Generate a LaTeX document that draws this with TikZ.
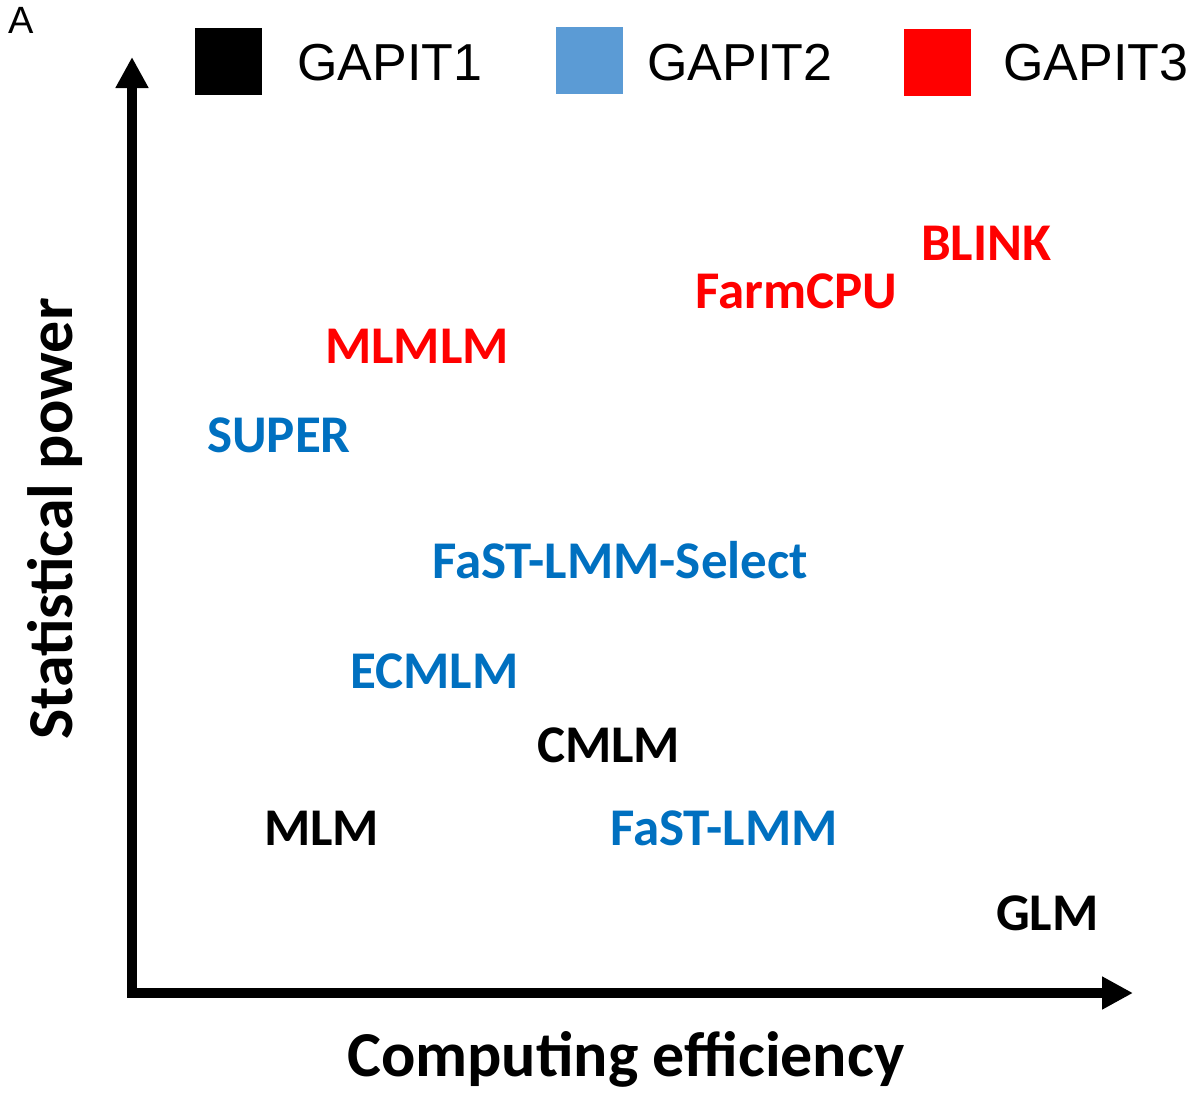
\documentclass[tikz,border=0pt]{standalone}
\usepackage{fontspec}
\usepackage{tikz}
\usetikzlibrary{arrows.meta}
\newfontfamily\carlito{Carlito}
\newfontfamily\arialfont{Liberation Sans}
\definecolor{gapitblue}{HTML}{0070C0}
\definecolor{gapitred}{HTML}{FF0000}
\definecolor{legblue}{HTML}{5B9BD5}

\begin{document}
\begin{tikzpicture}[x=1pt, y=-1pt,
    method/.style={inner sep=0pt, anchor=base west,
      font=\carlito\bfseries\fontsize{53}{60}\selectfont},
    g1/.style={method, text=black},
    g2/.style={method, text=gapitblue},
    g3/.style={method, text=gapitred},
    legbox/.style={draw=none, minimum width=67pt, minimum height=67pt,
      inner sep=0pt, anchor=north west},
    legtxt/.style={inner sep=0pt, anchor=base west,
      font=\arialfont\fontsize{52}{60}\selectfont},
    axlbl/.style={inner sep=0pt, anchor=base west,
      font=\carlito\bfseries\fontsize{64}{72}\selectfont},
    axis/.style={line width=10pt,
      {Triangle[length=31pt, width=31pt]}-{Triangle[length=31pt, width=31pt]}}
  ]
    \useasboundingbox (0,0) rectangle (1203,1096);
    \node[inner sep=0pt, anchor=base west,
      font=\arialfont\fontsize{38}{44}\selectfont] (PANEL) at (8,33) {A};
    % legend
    \node[legbox, fill=black] (SQ1) at (195,28) {};
    \node[legtxt] (LG1) at (297,80) {GAPIT1};
    \node[legbox, fill=legblue] (SQ2) at (556,27) {};
    \node[legtxt] (LG2) at (647,80) {GAPIT2};
    \node[legbox, fill=gapitred] (SQ3) at (904,29) {};
    \node[legtxt] (LG3) at (1003,80) {GAPIT3};
    % axes
    \coordinate (O) at (132,993);
    \coordinate (YTOP) at (132,57);
    \coordinate (XEND) at (1133,993);
    \draw[axis] (YTOP) -- (O) -- (XEND);
    \node[axlbl] (XLBL) at (347,1076) {Computing efficiency};
    \node[axlbl, rotate=90] (YLBL) at (72,740) {Statistical power};
    % methods
    \node[g3] (BLINK) at (921,260) {BLINK};
    \node[g3] (FARMCPU) at (695,308) {FarmCPU};
    \node[g3] (MLMLM) at (325,363) {MLMLM};
    \node[g2] (SUPER) at (207,452) {SUPER};
    \node[g2] (FASTSEL) at (432,578) {FaST-LMM-Select};
    \node[g2] (ECMLM) at (350,688) {ECMLM};
    \node[g1] (CMLM) at (537,762) {CMLM};
    \node[g1] (MLM) at (264,845) {MLM};
    \node[g2] (FASTLMM) at (610,845) {FaST-LMM};
    \node[g1] (GLM) at (996,930) {GLM};
  \end{tikzpicture}
\end{document}
